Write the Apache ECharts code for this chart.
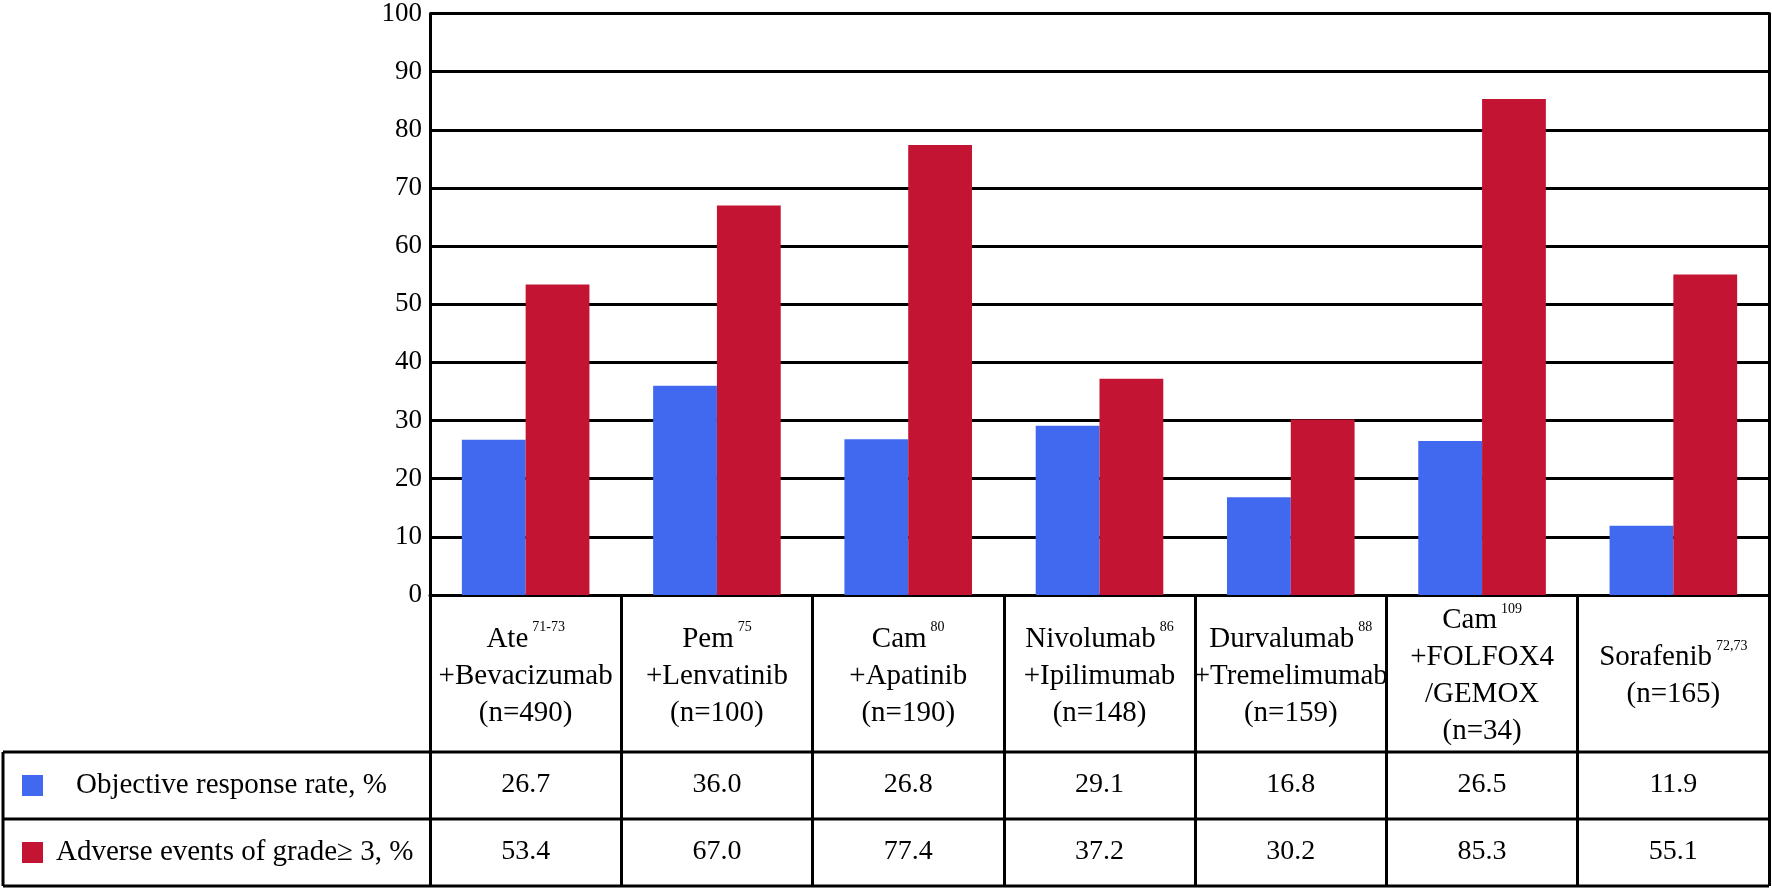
<!DOCTYPE html>
<html>
<head>
<meta charset="utf-8">
<script src="https://cdn.jsdelivr.net/npm/echarts@6/dist/echarts.min.js"></script>
<style>
  html, body { margin: 0; padding: 0; background: #fff; }
  #chart { width: 1772px; height: 889px; }
</style>
</head>
<body>
<div id="chart"></div>
<script>
// drug regimens shown under the bars
var drugs = ['Ate', 'Pem', 'Cam', 'Nivolumab', 'Durvalumab', 'Cam', 'Sorafenib']
var refs = ['71-73', '75', '80', '86', '88', '109', '72,73']
var combos = [['+Bevacizumab'], ['+Lenvatinib'], ['+Apatinib'], ['+Ipilimumab'], ['+Tremelimumab'], ['+FOLFOX4', '/GEMOX'], []]
var sizes = [490, 100, 190, 148, 159, 34, 165]

var seriesNames = ['Objective response rate, %', 'Adverse events of grade\u2265 3, %']
var orr = [26.7, 36.0, 26.8, 29.1, 16.8, 26.5, 11.9]
var ae = [53.4, 67.0, 77.4, 37.2, 30.2, 85.3, 55.1]

var yTicks = { min: 0, max: 100, interval: 10 }

var serif = '"Liberation Serif", "DejaVu Serif", serif'
var black = '#000'
var blue = '#4169EF'
var red = '#C41434'

var chart = echarts.init(document.getElementById('chart'))

function catLabel (v, i) {
  var lines = ['{m|' + drugs[i] + '}{s|' + refs[i] + '}']
  combos[i].forEach(function (c) { lines.push('{m|' + c + '}') })
  lines.push('{m|(n=' + sizes[i] + ')}')
  return lines.join('\n')
}

// table frame (rows below the plot), left label column
var tableLines = [
  [3, 752, 1769, 752],
  [3, 819, 1769, 819],
  [3, 886, 1769, 886],
  [3, 752, 3, 886]
].map(function (p) {
  return {
    type: 'line',
    shape: { x1: p[0], y1: p[1], x2: p[2], y2: p[3] },
    style: { stroke: black, lineWidth: 3 },
    z: 10
  }
})

var option = {
  backgroundColor: '#fff',
  animation: false,
  textStyle: { fontFamily: serif, color: black },
  grid: { left: 430, right: 3, top: 10, bottom: 294 },
  legend: [
    {
      data: [seriesNames[0]],
      left: 22,
      top: 771,
      padding: 0,
      itemWidth: 21,
      itemHeight: 21,
      icon: 'rect',
      selectedMode: false,
      textStyle: { fontFamily: serif, fontSize: 29, color: black, lineHeight: 28, padding: [0, 0, 0, 28] }
    },
    {
      data: [seriesNames[1]],
      left: 22,
      top: 838,
      padding: 0,
      itemWidth: 21,
      itemHeight: 21,
      icon: 'rect',
      selectedMode: false,
      textStyle: { fontFamily: serif, fontSize: 29, color: black, lineHeight: 28, padding: [0, 0, 0, 8] }
    }
  ],
  xAxis: [
    {
      type: 'category',
      data: drugs,
      axisLine: { lineStyle: { color: black, width: 3 } },
      axisTick: { show: true, interval: 0, length: 291, lineStyle: { color: black, width: 3 } },
      axisLabel: {
        interval: 0,
        margin: 81,
        verticalAlign: 'middle',
        fontFamily: serif,
        fontSize: 29,
        color: black,
        formatter: catLabel,
        rich: {
          m: { fontFamily: serif, fontSize: 29, lineHeight: 37, color: black },
          s: { fontFamily: serif, fontSize: 14, lineHeight: 20, verticalAlign: 'top', color: black, padding: [0, 0, 0, 4] }
        }
      }
    },
    {
      type: 'category',
      position: 'bottom',
      data: orr.map(function (v) { return v.toFixed(1) }),
      axisLine: { show: false },
      axisTick: { show: false },
      axisLabel: { interval: 0, margin: 190, verticalAlign: 'middle', fontFamily: serif, fontSize: 28, color: black }
    },
    {
      type: 'category',
      position: 'bottom',
      data: ae.map(function (v) { return v.toFixed(1) }),
      axisLine: { show: false },
      axisTick: { show: false },
      axisLabel: { interval: 0, margin: 257, verticalAlign: 'middle', fontFamily: serif, fontSize: 28, color: black }
    }
  ],
  yAxis: [
    {
      type: 'value',
      min: yTicks.min,
      max: yTicks.max,
      interval: yTicks.interval,
      axisLine: { show: true, lineStyle: { color: black, width: 3 } },
      axisTick: { show: false },
      axisLabel: { margin: 8, fontFamily: serif, fontSize: 27, color: black },
      splitLine: { lineStyle: { color: black, width: 3 } }
    },
    {
      type: 'value',
      position: 'right',
      min: yTicks.min,
      max: yTicks.max,
      interval: yTicks.interval,
      axisLine: { show: true, lineStyle: { color: black, width: 3 } },
      axisTick: { show: false },
      axisLabel: { show: false },
      splitLine: { show: false }
    }
  ],
  series: [
    {
      name: seriesNames[0],
      type: 'bar',
      data: orr,
      barGap: '0%',
      barCategoryGap: '33.3%',
      itemStyle: { color: blue },
      z: 3
    },
    {
      name: seriesNames[1],
      type: 'bar',
      data: ae,
      itemStyle: { color: red },
      z: 3
    }
  ],
  graphic: tableLines
}

chart.setOption(option)
</script>
</body>
</html>
